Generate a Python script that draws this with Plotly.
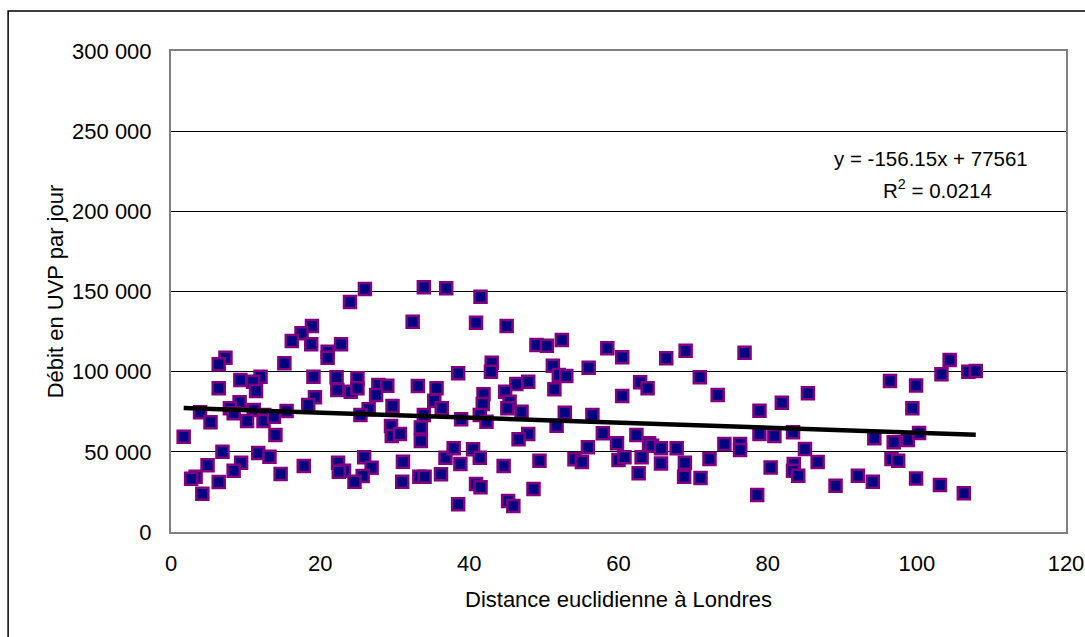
import plotly.graph_objects as go

# Distance euclidienne à Londres (x) and Débit en UVP par jour (y)
distance = [
    18.9, 17.5, 16.2, 18.8, 7.3, 6.4, 15.2, 19.1, 12.0, 9.3, 11.0, 11.4, 6.4, 19.3, 9.2, 18.4, 7.9, 8.4, 3.9, 11.1,
    10.2, 12.5, 12.4, 15.5, 13.8, 5.3, 14.0, 1.7, 6.9, 11.7, 13.2, 4.9, 9.4, 8.4, 17.8, 14.7, 3.3, 2.7, 6.4, 4.2,
    26.0, 24.0, 33.9, 36.9, 32.4, 22.8, 21.0, 21.0, 38.5, 22.2, 25.0, 22.3, 24.1, 25.0, 27.8, 29.0, 27.5, 33.1, 35.6, 35.3,
    36.3, 29.7, 26.5, 25.4, 33.9, 38.9, 29.5, 29.6, 30.7, 33.5, 33.5, 25.9, 22.4, 23.2, 22.5, 26.9, 25.7, 24.6, 31.1, 31.0,
    33.3, 34.0, 36.2, 36.8, 37.9, 38.8, 38.5,
    41.5, 40.9, 45.0, 49.0, 50.4, 52.4, 58.5, 60.5, 43.0, 42.9, 51.2, 52.0, 53.0, 56.0, 46.3, 47.9, 51.4, 41.9, 41.8, 44.8,
    45.4, 45.1, 47.0, 41.4, 42.3, 52.8, 56.5, 51.7, 47.9, 46.6, 57.9, 40.5, 41.4, 44.6, 49.4, 54.1, 55.1, 55.9, 59.8, 60.0,
    40.9, 41.5, 48.6, 45.2, 45.9, 60.5,
    66.4, 69.0, 76.9, 62.9, 63.9, 70.9, 73.3, 78.9, 62.4, 64.1, 64.5, 65.7, 67.8, 60.8, 63.1, 65.7, 68.9, 72.2, 74.2, 76.3,
    76.3, 62.7, 68.8, 71.0, 78.9, 78.6, 80.4,
    81.9, 85.4, 96.4, 99.9, 99.4, 80.9, 83.4, 85.0, 94.3, 96.9, 98.8, 100.3, 83.5, 83.4, 84.1, 86.7, 96.6, 97.5, 89.1, 92.1,
    94.1, 99.9,
    104.4, 103.3, 106.9, 107.9, 103.1, 106.3,
]
debit = [
    128500, 123900, 119100, 117100, 108700, 104600, 105200, 96900, 96900, 94800, 93700, 87900, 89600, 84000, 80900, 79200, 77200, 74000, 74700, 76100,
    69200, 73000, 69200, 75500, 71900, 68400, 60500, 59400, 50100, 49300, 47000, 41600, 43200, 38200, 41200, 36200, 34500, 33200, 31200, 23900,
    151600, 143500, 152600, 152000, 131200, 117100, 112500, 108700, 99000, 96500, 95900, 88600, 87500, 89600, 91700, 91200, 85400, 91100, 89600, 81900,
    77200, 78600, 76500, 73000, 73000, 70300, 66100, 59900, 61100, 65100, 56800, 46600, 43200, 38200, 37600, 40100, 34900, 31400, 43800, 31400,
    34500, 34500, 36000, 46300, 52200, 42400, 17300,
    146800, 130500, 128500, 116600, 116200, 119800, 114600, 109000, 105600, 100000, 103700, 97900, 97300, 102500, 92300, 93700, 89000, 85900, 79800, 87500,
    81300, 77200, 75000, 73000, 68800, 74400, 73000, 66300, 61100, 57800, 61600, 51600, 46300, 41200, 44500, 45300, 43700, 52800, 55300, 44900,
    29900, 27900, 26800, 19300, 16200, 84800,
    108300, 113100, 111800, 93400, 89600, 96500, 85400, 75700, 60500, 55300, 53800, 52200, 52200, 46600, 46600, 42800, 43200, 45500, 54900, 54900,
    51100, 36600, 34500, 33700, 61100, 23100, 40200,
    80600, 86500, 94200, 91400, 77200, 59900, 62200, 51800, 58400, 55900, 57400, 61700, 42400, 38200, 35100, 43700, 45500, 44500, 28900, 35100,
    31400, 33400,
    107300, 98400, 100000, 100400, 29300, 24100,
]

slope = -156.15
intercept = 77561
r_squared = "0.0214"

x_ticks = [0, 20, 40, 60, 80, 100, 120]
y_ticks = [0, 50000, 100000, 150000, 200000, 250000, 300000]
y_tick_labels = ["0", "50 000", "100 000", "150 000", "200 000", "250 000", "300 000"]

x_title = "Distance euclidienne à Londres"
y_title = "Débit en UVP par jour"

font_family = "Liberation Sans, Arial, sans-serif"

fig = go.Figure()
fig.add_trace(go.Scatter(
    x=distance, y=debit, mode="markers",
    marker=dict(symbol="square", size=12, color="#000080",
                line=dict(color="#800080", width=2.5)),
    showlegend=False, hoverinfo="x+y",
))

x_min, x_max = min(distance), max(distance)
fig.add_trace(go.Scatter(
    x=[x_min, x_max], y=[slope * x_min + intercept, slope * x_max + intercept],
    mode="lines", line=dict(color="black", width=4.5), showlegend=False, hoverinfo="skip",
))

fig.update_layout(
    width=1085, height=637, autosize=False,
    margin=dict(l=171, r=19, t=51, b=105, autoexpand=False),
    paper_bgcolor="white", plot_bgcolor="white",
    font=dict(family=font_family, size=22, color="black"),
    xaxis=dict(range=[0, 120], tickvals=x_ticks, showgrid=False, zeroline=False,
               showline=True, linecolor="#808080", linewidth=2, mirror=True,
               ticks="", ticklen=0, ticklabelstandoff=11, automargin=False,
               title=dict(text=x_title, font=dict(size=22), standoff=16),
               tickfont=dict(size=22)),
    yaxis=dict(range=[0, 300000], tickvals=y_ticks, ticktext=y_tick_labels,
               showgrid=True, gridcolor="black", gridwidth=1, zeroline=False,
               showline=True, linecolor="#808080", linewidth=2, mirror=True,
               ticks="", ticklen=0, ticklabelstandoff=13, automargin=False,
               title=dict(text=y_title, font=dict(size=22), standoff=2),
               tickfont=dict(size=22)),
    shapes=[dict(type="rect", xref="paper", yref="paper",
                 x0=-0.182, x1=1.05, y0=-0.25, y1=1.0832,
                 line=dict(color="black", width=1.5), fillcolor="rgba(0,0,0,0)", layer="below")],
    annotations=[
        dict(xref="paper", yref="paper", x=0.849, y=0.7755,
             text=f"y = {slope}x + {intercept}",
             showarrow=False, font=dict(size=20.5, color="black"),
             xanchor="center", yanchor="middle"),
        dict(xref="paper", yref="paper", x=0.856, y=0.713,
             text=f"R<sup>2</sup> = {r_squared}",
             showarrow=False, font=dict(size=20.5, color="black"),
             xanchor="center", yanchor="middle"),
    ],
)

fig.write_html("out.html", config={"displayModeBar": False},
               post_script="document.body.style.margin='0';document.body.style.overflow='hidden';")
